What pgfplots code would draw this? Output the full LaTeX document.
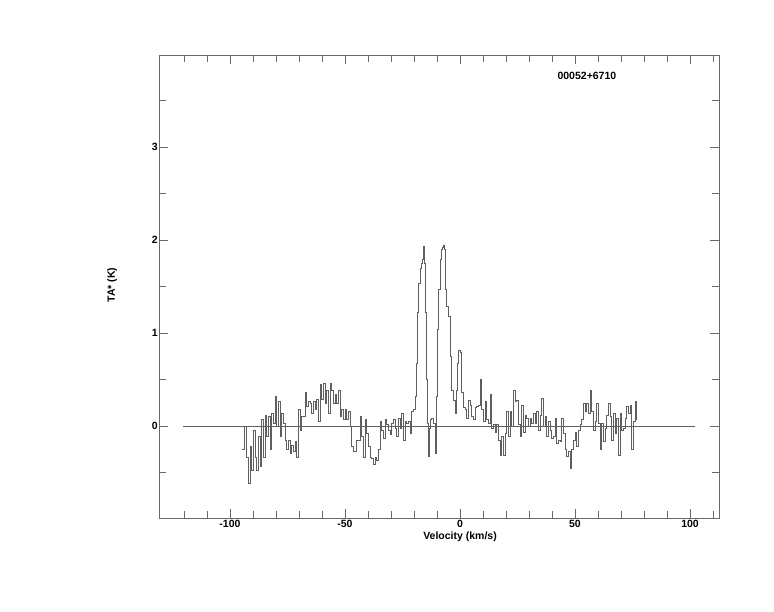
\documentclass[border=0pt]{standalone}
\usepackage{pgfplots}
\pgfplotsset{compat=1.18}
\usepackage{fontspec}
\setmainfont{Liberation Sans}
\definecolor{axgray}{RGB}{105,105,105}
\definecolor{specgray}{RGB}{95,95,95}
\begin{document}
\begin{tikzpicture}
\useasboundingbox (-159.3pt,-94pt) rectangle (614.7pt,518pt);
\begin{axis}[
  at={(0,0)}, anchor=south west,
  scale only axis, width=559.7pt, height=463pt,
  xmin=-130.7, xmax=112.6, ymin=-0.985, ymax=3.99,
  axis line style={axgray, line width=0.8pt},
  every tick/.style={axgray, line width=0.8pt},
  tick align=inside,
  xtick={-100,-50,0,50,100},
  minor xtick={-120,-110,...,110},
  ytick={0,1,2,3},
  minor ytick={-0.5,0.5,1.5,2.5,3.5},
  major tick length=9pt, minor tick length=7pt,
  xtick pos=both, ytick pos=both,
  xticklabel pos=lower, yticklabel pos=left,
  /pgf/number format/assume math mode=true,
  ticklabel style={font=\fontsize{10.5}{12}\selectfont\bfseries},
  yticklabel style={inner sep=1.5pt},
  xticklabel style={inner sep=2pt},
  label style={font=\fontsize{10.5}{12}\selectfont\bfseries},
  xlabel={Velocity (km/s)},
  xlabel style={at={(axis description cs:0.5373,0)}, anchor=center, yshift=-19pt},
  ylabel={TA* (K)},
  ylabel style={at={(axis description cs:-0.084,0.503)}, anchor=center},
  clip=false,
]
\addplot[specgray, line width=0.65pt, const plot] coordinates {
(-94.64,-0.25) (-93.62,0.0) (-92.75,-0.33) (-92.03,-0.61) (-91.30,-0.22) (-90.58,-0.47)
(-89.86,-0.04) (-89.13,-0.33) (-88.41,-0.47) (-87.68,-0.11) (-86.96,-0.43) (-86.23,0.07)
(-85.51,-0.33) (-84.78,0.12) (-84.06,-0.11) (-83.33,0.11) (-82.61,-0.25) (-81.88,0.14)
(-81.16,0.03) (-80.43,0.32) (-79.71,0.0) (-78.99,0.27) (-78.26,-0.11) (-77.54,0.14)
(-76.81,0.03) (-76.09,-0.15) (-75.36,-0.25) (-74.64,-0.15) (-73.91,-0.29) (-73.19,-0.20)
(-72.46,-0.27) (-71.74,-0.16) (-71.01,-0.33) (-70.29,0.18) (-69.57,-0.04) (-68.84,0.11)
(-67.39,0.36) (-66.67,0.21) (-65.94,0.27) (-65.22,0.25) (-64.49,0.14) (-63.77,0.27)
(-63.04,0.18) (-62.32,0.29) (-61.59,0.05) (-60.87,0.45) (-60.14,0.29) (-59.42,0.46)
(-58.70,0.25) (-57.97,0.39) (-57.25,0.14) (-56.52,0.46) (-55.80,0.39) (-55.07,0.25)
(-54.35,0.34) (-53.62,0.25) (-52.90,0.39) (-52.17,0.11) (-51.45,0.18) (-50.72,0.07)
(-50.00,0.18) (-49.28,0.07) (-48.55,0.16) (-47.83,0.0) (-47.10,-0.22) (-46.38,-0.27)
(-44.93,-0.15)
(-43.48,0.11) (-42.75,-0.11) (-42.03,-0.33) (-41.30,0.07) (-40.58,-0.07) (-39.86,-0.22)
(-39.13,-0.33) (-38.41,-0.34) (-37.68,-0.41) (-36.96,-0.33) (-36.23,-0.36) (-35.51,-0.25)
(-34.78,0.05) (-34.06,-0.04) (-33.33,-0.13) (-32.61,0.07) (-31.88,0.02) (-31.16,-0.04)
(-30.43,-0.09) (-29.71,0.03) (-28.99,0.07) (-28.26,-0.02) (-27.54,-0.11) (-26.81,0.09)
(-26.09,-0.02) (-25.36,0.14) (-24.64,-0.15) (-23.91,0.05) (-23.19,0.03) (-22.46,0.05)
(-21.74,-0.07) (-21.01,0.16) (-20.29,0.18) (-19.57,0.32)
(-18.84,0.68) (-18.41,1.22) (-17.97,1.54) (-17.39,1.70) (-16.96,1.75) (-16.52,1.79)
(-16.09,1.93) (-15.65,1.75) (-15.22,1.22) (-14.78,0.50) (-14.35,0.03) (-13.91,-0.32)
(-13.48,-0.02) (-13.04,0.07) (-12.32,0.09) (-11.59,0.03) (-10.87,-0.29) (-10.14,0.32)
(-9.71,1.04) (-9.28,1.47) (-8.70,1.79) (-8.26,1.90) (-7.83,1.92) (-7.39,1.95)
(-6.96,1.90) (-6.38,1.47) (-5.80,1.29) (-5.07,1.18) (-4.35,0.75) (-3.62,0.39)
(-2.90,0.28) (-2.17,0.14) (-1.74,0.39) (-1.16,0.68) (-0.58,0.82) (0.00,0.80)
(0.72,0.37) (1.45,0.20) (2.17,0.18) (2.90,0.09) (3.62,0.28) (4.35,0.23)
(5.07,0.11) (5.80,0.07) (6.52,0.20) (7.25,0.21) (7.97,0.23) (8.70,0.50)
(9.42,0.18) (10.14,0.05) (10.87,0.27) (11.59,0.07) (12.32,0.03) (13.04,0.34)
(13.77,-0.02) (14.49,0.02) (15.22,-0.06) (15.94,0.02) (16.67,-0.15) (17.39,-0.31)
(18.12,-0.11) (18.84,-0.31) (19.57,-0.07) (20.29,0.16) (21.01,-0.11) (21.74,0.16)
(22.46,0.00) (23.19,0.39) (23.91,0.27) (24.64,0.28) (25.36,0.02) (26.09,-0.11)
(26.81,0.23) (27.54,-0.06) (28.26,0.12) (28.99,0.09) (29.71,0.00) (30.43,0.09)
(31.16,0.03) (31.88,0.14) (32.61,0.03) (33.33,0.16) (34.06,-0.04) (34.78,0.12)
(35.51,0.30) (36.23,0.00) (36.96,0.11) (37.68,-0.11) (38.41,0.05) (39.13,-0.04)
(39.86,-0.13) (40.58,-0.11) (41.30,0.09) (42.03,-0.18) (42.75,-0.15)
(43.48,-0.16) (44.20,0.09) (44.93,-0.07) (45.65,-0.25) (46.38,-0.32) (47.10,-0.27)
(47.83,-0.45) (48.55,-0.25) (49.28,-0.15) (50.00,-0.06) (50.72,-0.22) (51.45,-0.04)
(52.17,0.02) (52.90,0.07) (53.62,0.25) (54.35,0.16) (55.07,0.25) (55.80,0.14)
(56.52,0.39) (57.25,0.16) (57.97,-0.04) (58.70,0.05) (59.42,0.25) (60.14,0.03)
(60.87,-0.25) (61.59,0.03) (62.32,-0.16) (63.04,-0.02) (63.77,0.12) (64.49,0.25)
(65.22,0.11) (65.94,-0.15) (66.67,0.14) (67.39,-0.07) (68.12,0.09) (68.84,-0.31)
(69.57,0.14) (70.29,-0.04) (71.01,-0.02) (71.74,0.09) (72.46,0.21) (73.19,0.14)
(73.91,0.23) (74.64,-0.25) (75.36,0.05) (76.09,0.27) (76.81,0.07)
};
\addplot[specgray, line width=0.65pt] coordinates {(-120.4,0) (102.2,0)};
\node[font=\fontsize{10.5}{12}\selectfont\bfseries, anchor=center] at (axis description cs:0.764,0.955) {00052+6710};
\end{axis}
\end{tikzpicture}
\end{document}
